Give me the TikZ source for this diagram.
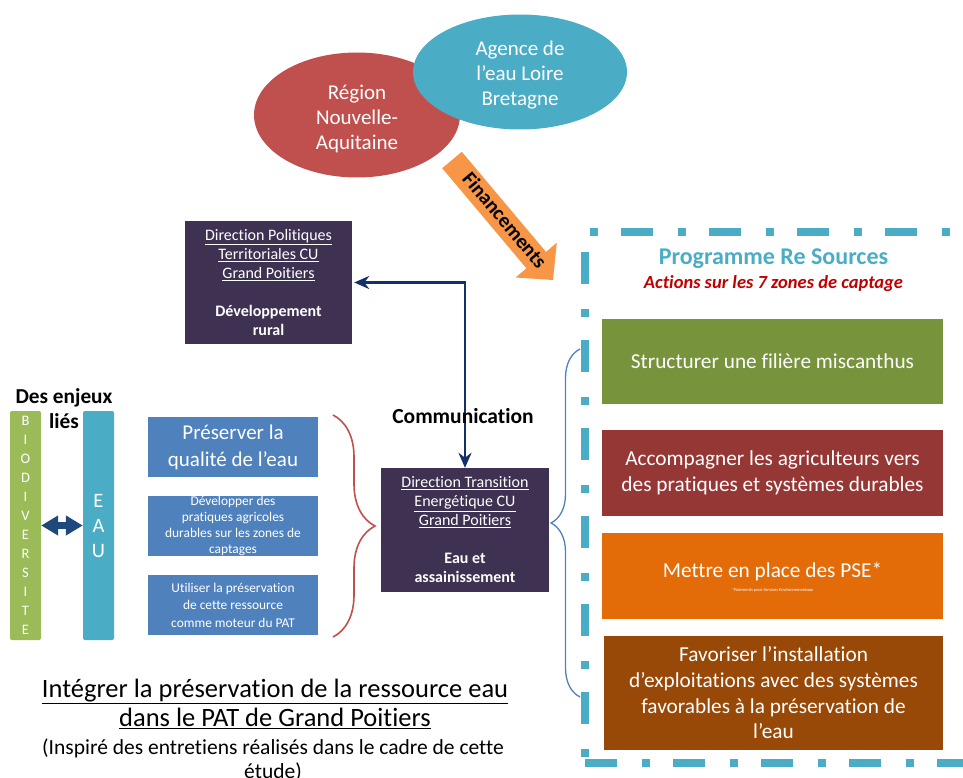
\documentclass[tikz,border=0pt]{standalone}
\usepackage{fontspec}
\setmainfont{Carlito}[Ligatures=NoCommon]
\usetikzlibrary{arrows.meta,decorations.pathreplacing,shapes.geometric}
\definecolor{purp}{HTML}{3F3151}
\definecolor{aqua}{HTML}{4BACC6}
\definecolor{redel}{HTML}{C0504D}
\definecolor{bluebox}{HTML}{4F81BD}
\definecolor{olivebox}{HTML}{77933C}
\definecolor{darkredbox}{HTML}{953735}
\definecolor{orangebox}{HTML}{E36C09}
\definecolor{brownbox}{HTML}{984807}
\definecolor{lgreen}{HTML}{9BBB59}
\definecolor{navyline}{HTML}{13306B}
\definecolor{darkblue}{HTML}{1F497D}
\definecolor{finorange}{HTML}{F79646}
\definecolor{ttlred}{HTML}{C00000}
\newcommand{\fsz}[2]{\fontsize{#1}{#2}\selectfont}
\begin{document}
\begin{tikzpicture}[x=1pt,y=-1pt,
  box/.style={rectangle, inner sep=0pt, align=center, text=white},
  pbox/.style={box, fill=purp, minimum width=167pt, minimum height=123pt, font=\fsz{16}{19}},
  bbox/.style={box, fill=bluebox, minimum width=170pt, minimum height=60pt},
  rbox/.style={box, minimum width=341pt, font=\fsz{21.3}{25.7}},
  bar/.style={box, rounded corners=2pt, minimum width=31pt, minimum height=229pt},
  dashline/.style={aqua, line width=7.5pt, line cap=butt, dash pattern=on 32pt off 25pt on 8pt off 23pt},
  ell/.style={ellipse, inner sep=0pt},
  elltxt/.style={align=center, text=white, font=\fsz{21}{25}},
  brc/.style={decorate, line width=1.6pt}
]
\useasboundingbox (0,0) rectangle (963,778);
\clip (0,0) rectangle (963,778);

% dash-dot frame of the programme
\draw[dashline, dash phase=52pt] (585,232) -- (1000,232);
\draw[dashline, dash phase=68pt] (585,232) -- (585,763);
\draw[dashline, dash phase=0pt] (585,763) -- (1000,763);

% ellipses
\node[ell, fill=redel, minimum width=206pt, minimum height=125pt] (reg) at (357,115) {};
\node[elltxt] (regt) at (357,119) {Région\\Nouvelle-\\Aquitaine};
\node[ell, fill=aqua, minimum width=214pt, minimum height=115pt] (age) at (520,72) {};
\node[elltxt] (aget) at (520,75) {Agence de\\l’eau Loire\\Bretagne};

% Financements arrow
\fill[finorange] (442.2,168.2) -- (461.8,151.8) -- (546,251.9) -- (556.8,242.7) -- (553,280) -- (515.6,277.5) -- (526.4,268.3) -- cycle;
\node[rotate=-50, font=\bfseries\fsz{20.5}{24}] (fin) at (505,220) {Financements};

% direction boxes
\node[pbox] (dp) at (268.5,282.5) {\underline{Direction Politiques}\\\underline{Territoriales CU}\\\underline{Grand Poitiers}\\[19pt]\textbf{Développement}\\\textbf{rural}};
\node[pbox, minimum width=168pt, minimum height=124pt] (dt) at (465,530) {\underline{Direction Transition}\\\underline{Energétique CU}\\\underline{Grand Poitiers}\\[19pt]\textbf{Eau et}\\\textbf{assainissement}};
\draw[navyline, line width=2.5pt, {Stealth[length=15pt,width=13pt]}-{Stealth[length=15pt,width=13pt]}, shorten <=2pt] (dp.east) -| (dt.north);
\node[font=\bfseries\fsz{21.5}{24}] (com) at (463,416) {Communication};

% left bars
\node[font=\bfseries\fsz{21.3}{25}, align=center] (enj) at (64,408.5) {Des enjeux\\liés};
\node[bar, fill=lgreen, font=\fsz{14.5}{19}] (bio) at (25.5,525.5) {B\\I\\O\\D\\I\\V\\E\\R\\S\\I\\T\\E};
\node[bar, fill=aqua, font=\fsz{20.5}{25}] (eau) at (98.5,525.5) {E\\A\\U};
\draw[darkblue, line width=7pt, {Triangle[length=17pt,width=19pt]}-{Triangle[length=17pt,width=19pt]}] (bio.east) -- (eau.west);

% blue boxes
\node[bbox, font=\fsz{21}{27}] (b1) at (233,447) {Préserver la\\qualité de l’eau};
\node[bbox, font=\fsz{13.4}{16}] (b2) at (233,526) {Développer des\\pratiques agricoles\\durables sur les zones de\\captages};
\node[bbox, font=\fsz{13.4}{17.5}] (b3) at (233,605) {Utiliser la préservation\\de cette ressource\\comme moteur du PAT};
\draw[brc, redel, decoration={brace, amplitude=42pt}] (333,415) -- (333,637);

% programme
\node[font=\bfseries\fsz{24}{28}, text=aqua] (prog) at (773.5,259) {Programme Re Sources};
\node[font=\bfseries\itshape\fsz{18.5}{22}, text=ttlred] (act) at (773.5,284) {Actions sur les 7 zones de captage};
\node[rbox, fill=olivebox, minimum height=85pt] (g1) at (772.5,361.5) {Structurer une filière miscanthus};
\node[rbox, fill=darkredbox, minimum height=86pt] (r1) at (772.5,473) {Accompagner les agriculteurs vers\\des pratiques et systèmes durables};
\node[rbox, fill=orangebox, minimum height=86pt] (o1) at (772.5,576) {};
\node[text=white, font=\fsz{21.3}{25}] (o1t) at (772.5,572) {Mettre en place des PSE*};
\node[text=white, font=\itshape\fsz{4.5}{5}] (o1n) at (772.5,590) {*Paiements pour Services Environnementaux};
\node[rbox, fill=brownbox, minimum width=339pt, minimum height=114pt] (br1) at (773.5,693) {Favoriser l’installation\\d’exploitations avec des systèmes\\favorables à la préservation de\\l’eau};
\draw[brc, bluebox, line width=1.3pt, decoration={brace, amplitude=29pt}] (580,697) -- (580,349);

% title
\node[font=\fsz{26.5}{29}, align=center] (ttl) at (275,704) {\underline{Intégrer la préservation de la ressource eau}\\\underline{dans le PAT de Grand Poitiers}};
\node[font=\fsz{21.5}{24}, align=center] (src) at (273,760) {(Inspiré des entretiens réalisés dans le cadre de cette\\étude)};
\end{tikzpicture}
\end{document}
